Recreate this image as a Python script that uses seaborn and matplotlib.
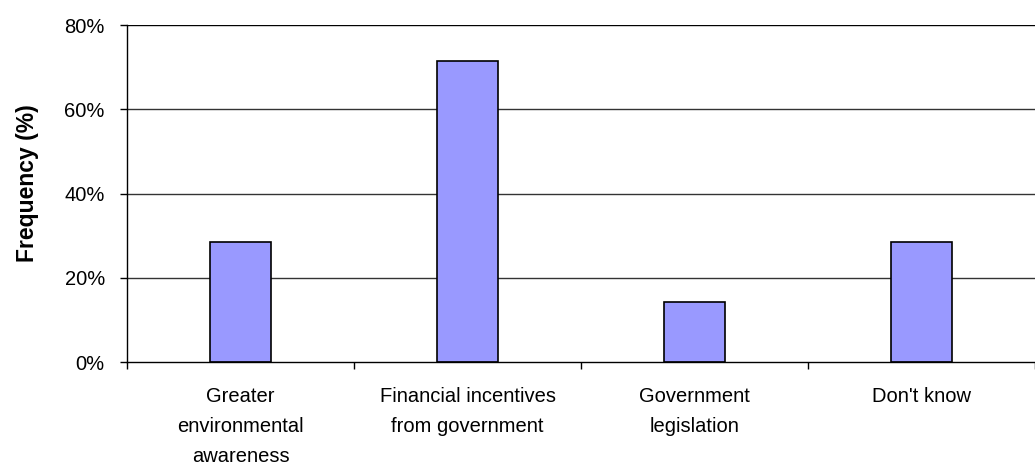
import matplotlib
matplotlib.use("Agg")
import matplotlib.pyplot as plt
import seaborn as sns
import pandas as pd
from matplotlib.ticker import FixedLocator, PercentFormatter

categories = ["Greater\nenvironmental\nawareness", "Financial incentives\nfrom government",
              "Government\nlegislation", "Don't know"]
values = [28.6, 71.4, 14.3, 28.6]
y_ticks = [0, 20, 40, 60, 80]

sns.set_style("white")
plt.rcParams['font.family'] = ['Liberation Sans', 'DejaVu Sans']
plt.rcParams['text.color'] = 'black'
plt.rcParams['xtick.color'] = 'black'
plt.rcParams['ytick.color'] = 'black'
plt.rcParams['axes.labelcolor'] = 'black'

df = pd.DataFrame({"category": categories, "value": values})

fig = plt.figure(figsize=(10.35, 4.65), dpi=100)
ax = fig.add_axes([127/1035, 1 - 362/465, 1 - 127/1035, (362 - 25)/465])

sns.barplot(data=df, x="category", y="value", color="#9999FF", saturation=1,
            width=0.27, edgecolor="black", linewidth=1.2, ax=ax, zorder=3)

ax.set_ylim(0, 80)
ax.set_xlim(-0.5, 3.5)
ax.yaxis.set_major_locator(FixedLocator(y_ticks))
ax.yaxis.set_major_formatter(PercentFormatter(decimals=0))
for y in y_ticks[1:]:
    ax.axhline(y, color="#333333" if y < 80 else "black", linewidth=1.0, zorder=1)

# x ticks at category boundaries, labels at centers
ax.set_xticks([-0.5, 0.5, 1.5, 2.5, 3.5])
ax.set_xticklabels([])
ax.set_xticks([0, 1, 2, 3], minor=True)
ax.set_xticklabels(categories, minor=True, fontsize=14.5, linespacing=1.72)
ax.tick_params(axis="x", which="minor", length=0, pad=18)
ax.tick_params(axis="x", which="major", direction="out", length=5, width=1, bottom=True)
ax.tick_params(axis="y", direction="out", length=5, width=1, left=True, labelsize=14.5, pad=11)

for s in ["top", "right"]:
    ax.spines[s].set_visible(False)
for s in ["left", "bottom"]:
    ax.spines[s].set_color("black")
    ax.spines[s].set_linewidth(1.0)
    ax.spines[s].set_zorder(4)

ax.set_xlabel("")
ax.set_ylabel("Frequency (%)", fontsize=16.5, fontweight="bold")
ax.yaxis.set_label_coords(-0.097, 0.53)

fig.savefig("out.png", dpi=100)
